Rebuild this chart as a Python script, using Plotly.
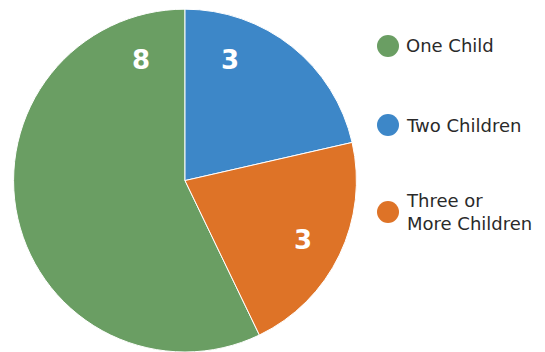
import plotly.graph_objects as go

categories = ["One Child", "Two Children", "Three or More Children"]
legend_labels = ["One Child", "Two Children", "Three or<br>More Children"]
values = [8, 3, 3]
colors = ["#6a9e63", "#3d87c8", "#de7327"]

W, H = 545, 352

fig = go.Figure()
fig.add_trace(go.Pie(
    labels=categories,
    values=values,
    sort=False,
    direction="clockwise",
    rotation=360 * values[0] / sum(values) * -1,
    marker=dict(colors=colors, line=dict(color="white", width=1)),
    textinfo="none",
    hoverinfo="label+value",
    showlegend=False,
    domain=dict(x=[13 / W, 357 / W], y=[0, 0.974]),
))

# value labels
label_pos = [(141, 60), (230, 60), (303, 240)]
annotations = []
for (px, py), v in zip(label_pos, values):
    annotations.append(dict(
        x=px / W, y=1 - py / H, xref="paper", yref="paper",
        xanchor="center", yanchor="middle",
        text=f"<b>{v}</b>", showarrow=False,
        font=dict(family="DejaVu Sans", size=26, color="white"),
    ))

# legend
leg_y = [46, 125, 212]
shapes = []
for yy, lab, col in zip(leg_y, legend_labels, colors):
    shapes.append(dict(
        type="circle", xref="paper", yref="paper",
        x0=377 / W, x1=399 / W, y0=1 - (yy + 11) / H, y1=1 - (yy - 11) / H,
        fillcolor=col, line=dict(width=0),
    ))
    annotations.append(dict(
        x=404 / W, y=1 - yy / H, xref="paper", yref="paper",
        xanchor="left", yanchor="middle",
        text=lab, showarrow=False, align="left",
        font=dict(family="DejaVu Sans", size=18, color="#2a2a2a"),
    ))

fig.update_layout(
    width=W, height=H,
    margin=dict(l=0, r=0, t=0, b=0),
    paper_bgcolor="white",
    plot_bgcolor="white",
    annotations=annotations,
    shapes=shapes,
)

fig.write_html("out.html", config={"displayModeBar": False},
               post_script="document.body.style.margin='0';")
